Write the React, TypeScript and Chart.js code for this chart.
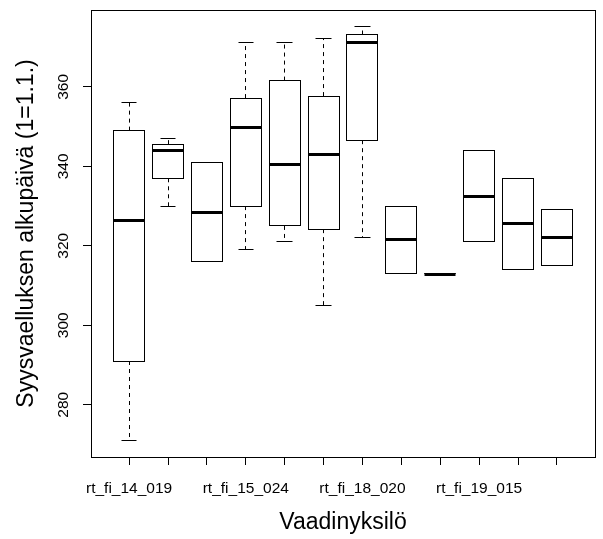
import React, { useEffect, useRef } from "react";
import { Chart, registerables } from "chart.js";

Chart.register(...registerables);

// ---- data ----
const categories = [
  "rt_fi_14_019", "", "", "rt_fi_15_024", "", "",
  "rt_fi_18_020", "", "", "rt_fi_19_015", "", "",
];
const whiskerLow = [271, 330, 316, 319, 321, 305, 322, 313, 313, 321, 314, 315];
const quartile1 = [291, 337, 316, 330, 325, 324.2, 346.6, 313, 313, 321, 314, 315];
const medians = [326.6, 344.1, 328.5, 350, 340.7, 343.1, 371.3, 321.6, 313, 332.5, 325.7, 322.1];
const quartile3 = [349, 345.6, 341.1, 357.2, 361.6, 357.7, 373.2, 330, 313, 344.1, 336.9, 329.1];
const whiskerHigh = [356, 347, 341.1, 371.2, 371.2, 372.2, 375.2, 330, 313, 344.1, 336.9, 329.1];
const yTicks = [280, 300, 320, 340, 360];

const xTitle = "Vaadinyksilö";
const yTitle = "Syysvaelluksen alkupäivä (1=1.1.)";

const FONT = "'Liberation Sans', Arial, sans-serif";

const dataMin = Math.min(...whiskerLow);
const dataMax = Math.max(...whiskerHigh);
const yPad = (dataMax - dataMin) * 0.04;
const n = categories.length;
const xPad = n * 0.04;

const snap = (v: number) => Math.round(v - 0.5) + 0.5;

const boxPlugin = {
  id: "rBoxplot",
  afterDatasetsDraw(chart: any) {
    const ctx: CanvasRenderingContext2D = chart.ctx;
    const xs = chart.scales.x;
    const ys = chart.scales.y;
    const area = chart.chartArea;
    const halfBox = (xs.getPixelForValue(1.4) - xs.getPixelForValue(1));
    const halfCap = halfBox / 2;

    ctx.save();
    for (let i = 0; i < n; i++) {
      const cx = xs.getPixelForValue(i + 1);
      const yLo = ys.getPixelForValue(whiskerLow[i]);
      const yQ1 = ys.getPixelForValue(quartile1[i]);
      const yMed = ys.getPixelForValue(medians[i]);
      const yQ3 = ys.getPixelForValue(quartile3[i]);
      const yHi = ys.getPixelForValue(whiskerHigh[i]);
      const x0 = snap(cx - halfBox);
      const x1 = snap(cx + halfBox);

      // whiskers (dashed)
      ctx.strokeStyle = "#000";
      ctx.lineWidth = 1;
      ctx.setLineDash([4, 4]);
      ctx.beginPath();
      if (Math.abs(yHi - yQ3) > 0.5) {
        ctx.moveTo(snap(cx), yQ3);
        ctx.lineTo(snap(cx), yHi);
      }
      if (Math.abs(yLo - yQ1) > 0.5) {
        ctx.moveTo(snap(cx), yQ1);
        ctx.lineTo(snap(cx), yLo);
      }
      ctx.stroke();
      ctx.setLineDash([]);

      // staples
      if (!(whiskerLow[i] === whiskerHigh[i])) {
        ctx.beginPath();
        ctx.moveTo(snap(cx - halfCap), snap(yHi));
        ctx.lineTo(snap(cx + halfCap), snap(yHi));
        ctx.moveTo(snap(cx - halfCap), snap(yLo));
        ctx.lineTo(snap(cx + halfCap), snap(yLo));
        ctx.stroke();
      }

      // box
      ctx.fillStyle = "#fff";
      const top = snap(yQ3);
      const bot = snap(yQ1);
      ctx.fillRect(x0, top, x1 - x0, bot - top);
      ctx.strokeRect(x0, top, x1 - x0, bot - top);

      // median
      ctx.lineWidth = 3;
      ctx.beginPath();
      ctx.moveTo(x0, Math.round(yMed) + 0.5);
      ctx.lineTo(x1, Math.round(yMed) + 0.5);
      ctx.stroke();
    }

    // frame
    ctx.lineWidth = 1;
    ctx.strokeStyle = "#000";
    ctx.strokeRect(snap(area.left), snap(area.top), snap(area.right) - snap(area.left), snap(area.bottom) - snap(area.top));

    // texts
    ctx.fillStyle = "#000";
    ctx.font = `15.5px ${FONT}`;
    ctx.textAlign = "center";
    ctx.textBaseline = "alphabetic";
    categories.forEach((lab, i) => {
      if (!lab) return;
      ctx.fillText(lab, xs.getPixelForValue(i + 1), 493);
    });
    yTicks.forEach((v) => {
      ctx.save();
      ctx.translate(68, ys.getPixelForValue(v));
      ctx.rotate(-Math.PI / 2);
      ctx.fillText(String(v), 0, 0);
      ctx.restore();
    });

    ctx.font = `23px ${FONT}`;
    ctx.fillText(xTitle, (area.left + area.right) / 2, 529);
    ctx.save();
    ctx.translate(33, (area.top + area.bottom) / 2);
    ctx.rotate(-Math.PI / 2);
    ctx.fillText(yTitle, 0, 0);
    ctx.restore();
    ctx.restore();
  },
};

export default function App() {
  const ref = useRef<HTMLCanvasElement | null>(null);
  useEffect(() => {
    if (!ref.current) return;
    const chart = new Chart(ref.current, {
      type: "scatter",
      data: {
        datasets: [
          {
            data: medians.map((m, i) => ({ x: i + 1, y: m })),
            pointRadius: 0,
            showLine: false,
          },
        ],
      },
      options: {
        responsive: false,
        animation: false,
        layout: { padding: { left: 0, top: 10, right: 8, bottom: 0 } },
        plugins: {
          legend: { display: false },
          tooltip: { enabled: false },
        },
        scales: {
          x: {
            type: "linear",
            min: 1 - 0.5 - xPad,
            max: n + 0.5 + xPad,
            afterBuildTicks: (s: any) => {
              s.ticks = categories.map((_, i) => ({ value: i + 1 }));
            },
            afterFit: (s: any) => {
              s.height = 82;
            },
            ticks: { display: false },
            grid: {
              display: true,
              drawOnChartArea: false,
              drawTicks: true,
              tickLength: 8,
              color: "#000",
            },
            border: { display: true, color: "#000" },
          },
          y: {
            type: "linear",
            min: dataMin - yPad,
            max: dataMax + yPad,
            afterBuildTicks: (s: any) => {
              s.ticks = yTicks.map((v) => ({ value: v }));
            },
            afterFit: (s: any) => {
              s.width = 91;
            },
            ticks: { display: false },
            grid: {
              display: true,
              drawOnChartArea: false,
              drawTicks: true,
              tickLength: 8,
              color: "#000",
            },
            border: { display: true, color: "#000" },
          },
        },
      },
      plugins: [boxPlugin],
    });
    return () => chart.destroy();
  }, []);
  return (
    <div style={{ position: "absolute", left: 0, top: 0, width: 603, height: 539, background: "#fff" }}>
      <canvas ref={ref} width={603} height={539} style={{ display: "block" }} />
    </div>
  );
}
